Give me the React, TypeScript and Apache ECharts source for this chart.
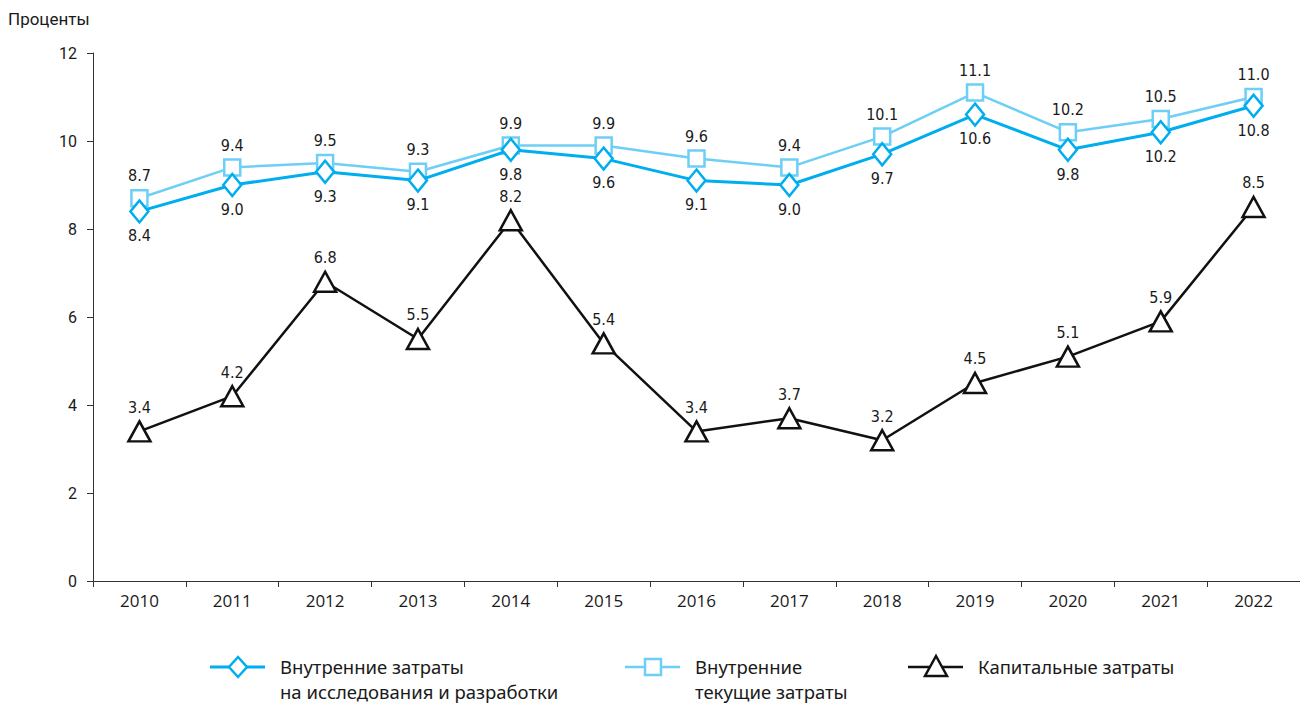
import React, { useEffect, useRef } from "react";
import * as echarts from "echarts";

const years = ["2010", "2011", "2012", "2013", "2014", "2015", "2016", "2017", "2018", "2019", "2020", "2021", "2022"];
const rdTotal = [8.4, 9.0, 9.3, 9.1, 9.8, 9.6, 9.1, 9.0, 9.7, 10.6, 9.8, 10.2, 10.8];
const currentCosts = [8.7, 9.4, 9.5, 9.3, 9.9, 9.9, 9.6, 9.4, 10.1, 11.1, 10.2, 10.5, 11.0];
const capitalCosts = [3.4, 4.2, 6.8, 5.5, 8.2, 5.4, 3.4, 3.7, 3.2, 4.5, 5.1, 5.9, 8.5];
const yTicks = [0, 2, 4, 6, 8, 10, 12];

const NAME1 = "Внутренние затраты\nна исследования и разработки";
const NAME2 = "Внутренние\nтекущие затраты";
const NAME3 = "Капитальные затраты";

const BLUE = "#00aeef";
const LIGHT = "#6dcff6";
const BLACK = "#111111";

const labelFont = "'DejaVu Sans Condensed', 'Roboto', sans-serif";
const axisFont = "'Open Sans', 'Roboto', sans-serif";
const legendFont = "'Noto Sans', 'Open Sans', sans-serif";

function legendItem(x: number, y: number, color: string, lw: number, marker: any, text: string) {
  return {
    type: "group",
    x,
    y,
    children: [
      { type: "line", shape: { x1: 0, y1: 0, x2: 55, y2: 0 }, style: { stroke: color, lineWidth: lw } },
      marker,
      {
        type: "text",
        x: 70,
        y: -13,
        style: { text, font: `18.5px ${legendFont}`, fill: "#1a1a1a", lineHeight: 25, textVerticalAlign: "top" },
      },
    ],
  };
}

export default function App() {
  const ref = useRef<HTMLDivElement>(null);
  useEffect(() => {
    if (!ref.current) return;
    const chart = echarts.init(ref.current, undefined, { renderer: "svg" });
    const fmt = (p: any) => Number(p.value).toFixed(1);
    const lbl = { fontFamily: labelFont, fontSize: 16, color: "#1a1a1a" };
    chart.setOption({
      animation: false,
      backgroundColor: "#ffffff",
      title: {
        text: "Проценты",
        left: 3,
        top: 5,
        textStyle: { fontFamily: "'Roboto', sans-serif", fontSize: 17, fontWeight: "normal", color: "#1a1a1a" },
      },
      grid: { left: 93, right: 0, top: 53, bottom: 125, containLabel: false },
      graphic: [
        legendItem(210, 667, BLUE, 3, {
          type: "polygon",
          shape: { points: [[28, -10], [37, 0], [28, 10], [19, 0]] },
          style: { fill: "#fff", stroke: BLUE, lineWidth: 2.5 },
        }, NAME1),
        legendItem(625, 667, LIGHT, 2.5, {
          type: "rect",
          shape: { x: 20, y: -8, width: 16, height: 16 },
          style: { fill: "#fff", stroke: LIGHT, lineWidth: 2.5 },
        }, NAME2),
        legendItem(908, 667, BLACK, 2.5, {
          type: "polygon",
          shape: { points: [[28, -11], [39, 9], [17, 9]] },
          style: { fill: "#fff", stroke: BLACK, lineWidth: 2.5 },
        }, NAME3),
      ],
      xAxis: {
        type: "category",
        data: years,
        boundaryGap: true,
        axisLine: { lineStyle: { color: "#333", width: 1 } },
        axisTick: { show: true, length: 6, lineStyle: { color: "#333" } },
        axisLabel: { fontFamily: axisFont, fontSize: 17, color: "#1a1a1a", margin: 11 },
      },
      yAxis: {
        type: "value",
        min: 0,
        max: 12,
        interval: 2,
        axisLine: { show: true, lineStyle: { color: "#333", width: 1 } },
        axisTick: { show: true, length: 6, lineStyle: { color: "#333" } },
        splitLine: { show: false },
        axisLabel: {
          fontFamily: "'Roboto', sans-serif",
          fontSize: 16,
          color: "#1a1a1a",
          margin: 16,
          formatter: (v: number) => (yTicks.includes(v) ? String(v) : ""),
        },
      },
      series: [
        {
          name: NAME2,
          type: "line",
          data: currentCosts,
          symbol: "rect",
          symbolSize: 16,
          lineStyle: { color: LIGHT, width: 2.5 },
          itemStyle: { color: "#ffffff", borderColor: LIGHT, borderWidth: 2.5 },
          label: { show: true, position: "top", distance: 5, formatter: fmt, ...lbl },
          z: 2,
        },
        {
          name: NAME1,
          type: "line",
          data: rdTotal,
          symbol: "diamond",
          symbolSize: [18, 22],
          lineStyle: { color: BLUE, width: 3 },
          itemStyle: { color: "#ffffff", borderColor: BLUE, borderWidth: 2.5 },
          label: { show: true, position: "bottom", distance: 4, formatter: fmt, ...lbl },
          z: 3,
        },
        {
          name: NAME3,
          type: "line",
          data: capitalCosts,
          symbol: "triangle",
          symbolSize: [22, 20],
          lineStyle: { color: BLACK, width: 2.5 },
          itemStyle: { color: "#ffffff", borderColor: BLACK, borderWidth: 2.5 },
          label: { show: true, position: "top", distance: 5, formatter: fmt, ...lbl },
          z: 4,
        },
      ],
    });
    return () => chart.dispose();
  }, []);
  return <div ref={ref} style={{ position: "fixed", left: 0, top: 0, width: 1300, height: 706 }} />;
}
